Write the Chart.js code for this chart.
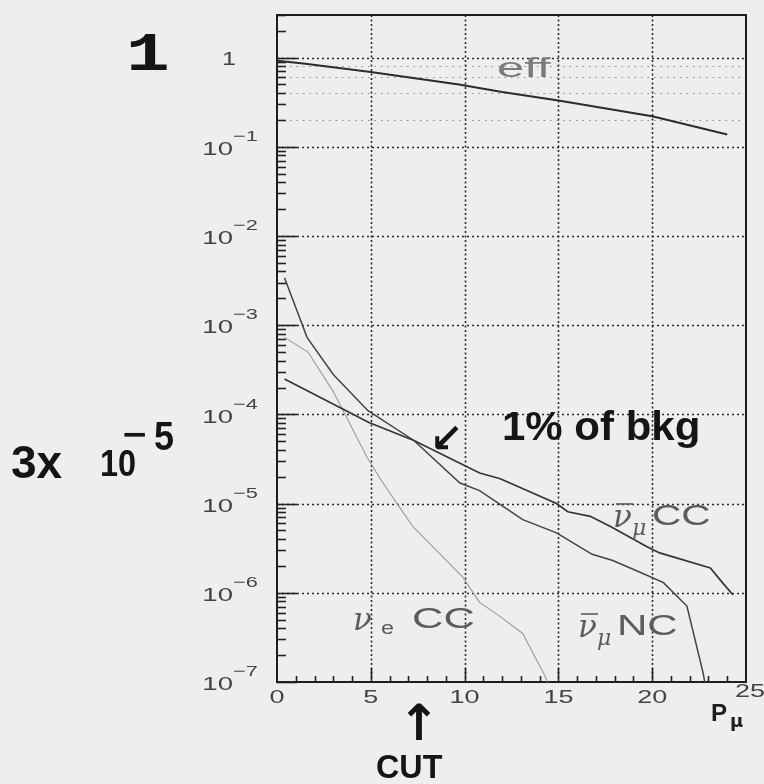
<!DOCTYPE html>
<html>
<head>
<meta charset="utf-8">
<script src="https://cdn.jsdelivr.net/npm/chart.js@4/dist/chart.umd.min.js"></script>
<style>
  html, body { margin: 0; padding: 0; background: #eeeeec; }
  #wrap { width: 764px; height: 784px; }
</style>
</head>
<body>
<div id="wrap"><canvas id="c" width="764" height="784"></canvas></div>
<script>
// Muon momentum P_mu (GeV/c) and the curves drawn against it
const effP   = [0, 1.4, 5, 9.7, 12, 15, 20, 24];
const effVal = [0.92, 0.86, 0.69, 0.50, 0.41, 0.33, 0.22, 0.137];

const numuBarCCP   = [0.4, 4.9, 7.3, 10.8, 11.9, 14.9, 15.5, 16.7, 17.8, 19.7, 20.4, 23.1, 23.8, 24.3];
const numuBarCCVal = [2.5e-4, 8.1e-5, 5.1e-5, 2.2e-5, 1.9e-5, 1.0e-5, 8.1e-6, 7.2e-6, 5.5e-6, 3.3e-6, 2.8e-6, 1.9e-6, 1.26e-6, 9.5e-7];

const numuBarNCP   = [0.4, 1.6, 3.0, 4.85, 7.3, 9.75, 10.8, 13.1, 14.9, 16.8, 17.9, 19.35, 20.6, 21.85, 22.7, 23.0];
const numuBarNCVal = [3.4e-3, 7.3e-4, 2.8e-4, 1.1e-4, 5.1e-5, 1.7e-5, 1.4e-5, 6.6e-6, 4.7e-6, 2.7e-6, 2.3e-6, 1.7e-6, 1.3e-6, 7.1e-7, 1.3e-7, 6e-8];

const nueCCP   = [0.4, 1.65, 3.0, 4.8, 5.5, 6.4, 7.25, 8.3, 9.9, 10.8, 11.9, 13.1, 13.65, 14.3, 14.5];
const nueCCVal = [7.3e-4, 5.0e-4, 1.8e-4, 3.3e-5, 1.9e-5, 1.0e-5, 5.5e-6, 3.3e-6, 1.5e-6, 7.8e-7, 5.4e-7, 3.5e-7, 2.1e-7, 1.15e-7, 9e-8];

// Axis ticks
const xTickLabels = [0, 5, 10, 15, 20, 25];
const yDecades    = [-7, -6, -5, -4, -3, -2, -1, 0];
const yFineGrid   = [0.2, 0.4, 0.6, 0.8];

const pts = (xs, ys) => xs.map((x, i) => ({ x: x, y: ys[i] }));

function txt(ctx, s, x, y, font, sx, align, color, base) {
  ctx.save();
  ctx.font = font;
  ctx.fillStyle = color;
  ctx.textAlign = align || 'left';
  ctx.textBaseline = base || 'middle';
  ctx.translate(x, y);
  ctx.scale(sx, 1);
  ctx.fillText(s, 0, 0);
  ctx.restore();
}

// neutrino symbol, with an optional bar for the antineutrino
function nu(ctx, x, base, bar, color) {
  txt(ctx, '\u03bd', x, base, 'italic 31px "DejaVu Serif"', 1.0, 'left', color, 'alphabetic');
  if (bar) {
    ctx.save();
    ctx.strokeStyle = color;
    ctx.lineWidth = 1.6;
    ctx.beginPath(); ctx.moveTo(x + 3, base - 23); ctx.lineTo(x + 20, base - 23); ctx.stroke();
    ctx.restore();
  }
}

const frame = {
  id: 'frame',
  beforeDatasetsDraw(chart) {
    const { ctx, chartArea: a, scales: { x, y } } = chart;
    ctx.save();
    // fine grid across the efficiency region
    ctx.strokeStyle = '#8a8a8a';
    ctx.lineWidth = 1;
    ctx.setLineDash([1.5, 5]);
    yFineGrid.forEach(v => {
      const py = Math.round(y.getPixelForValue(v)) + 0.5;
      ctx.beginPath(); ctx.moveTo(a.left, py); ctx.lineTo(a.right, py); ctx.stroke();
    });
    // decade grid
    ctx.strokeStyle = '#2a2a2a';
    ctx.lineWidth = 1.6;
    ctx.setLineDash([2, 3]);
    yDecades.forEach(k => {
      if (k === -7) return;
      const py = Math.round(y.getPixelForValue(Math.pow(10, k))) + 0.5;
      ctx.beginPath(); ctx.moveTo(a.left, py); ctx.lineTo(a.right, py); ctx.stroke();
    });
    ctx.setLineDash([2, 2.5]);
    xTickLabels.forEach(v => {
      if (v === 0 || v === 25) return;
      const px = Math.round(x.getPixelForValue(v)) + 0.5;
      ctx.beginPath(); ctx.moveTo(px, a.top); ctx.lineTo(px, a.bottom); ctx.stroke();
    });
    ctx.setLineDash([]);
    // y ticks: long at decades, short at 2..9
    ctx.strokeStyle = '#222';
    ctx.lineWidth = 1.6;
    for (let k = -7; k <= 0; k++) {
      for (let m = 1; m <= 9; m++) {
        const v = m * Math.pow(10, k);
        if (v > y.max) break;
        const py = Math.round(y.getPixelForValue(v)) + 0.5;
        const len = m === 1 ? 20 : 9;
        ctx.beginPath(); ctx.moveTo(a.left, py); ctx.lineTo(a.left + len, py); ctx.stroke();
      }
    }
    // x ticks every 1 GeV/c
    for (let v = 1; v < 25; v++) {
      const px = Math.round(x.getPixelForValue(v)) + 0.5;
      const len = v % 5 === 0 ? 14 : 6;
      ctx.beginPath(); ctx.moveTo(px, a.bottom); ctx.lineTo(px, a.bottom - len); ctx.stroke();
    }
    // frame
    ctx.lineWidth = 2;
    ctx.strokeStyle = '#1e1e1e';
    ctx.strokeRect(a.left, a.top, a.right - a.left, a.bottom - a.top);
    ctx.restore();
  },
  afterDraw(chart) {
    const { ctx, scales: { x, y } } = chart;
    const lab = '#444';
    // y tick labels
    yDecades.forEach(k => {
      const py = y.getPixelForValue(Math.pow(10, k));
      if (k === 0) {
        txt(ctx, '1', 236, py + 2, '18px "Liberation Sans"', 1.4, 'right', lab);
      } else {
        txt(ctx, '10', 233, py + 3, '19px "Liberation Sans"', 1.45, 'right', lab);
        txt(ctx, '\u2212' + (-k), 233, py - 10, '15px "Liberation Sans"', 1.45, 'left', lab);
      }
    });
    // x tick labels
    xTickLabels.forEach(v => {
      const px = x.getPixelForValue(v);
      txt(ctx, String(v), px + (v === 25 ? 4 : 0), v === 25 ? 692 : 698, '18px "Liberation Sans"', 1.5, 'center', lab);
    });
    // axis title
    txt(ctx, 'P', 711, 721, 'bold 23px "Liberation Sans"', 1.05, 'left', '#1e1e1e', 'alphabetic');
    txt(ctx, '\u03bc', 730, 727, 'bold 18px "DejaVu Sans"', 1.0, 'left', '#1e1e1e', 'alphabetic');

    // curve labels
    const cl = '#5c5c5c';
    txt(ctx, 'eff', 497, 77, '28px "Liberation Sans"', 1.75, 'left', '#7a7a7a', 'alphabetic');

    nu(ctx, 613, 527, true, cl);
    txt(ctx, '\u03bc', 632, 535, 'italic 22px "DejaVu Serif"', 1.0, 'left', cl, 'alphabetic');
    txt(ctx, 'CC', 652, 525, '29px "Liberation Sans"', 1.4, 'left', cl, 'alphabetic');

    nu(ctx, 578, 637, true, cl);
    txt(ctx, '\u03bc', 597, 645, 'italic 22px "DejaVu Serif"', 1.0, 'left', cl, 'alphabetic');
    txt(ctx, 'NC', 617, 635, '29px "Liberation Sans"', 1.45, 'left', cl, 'alphabetic');

    nu(ctx, 353, 630, false, cl);
    txt(ctx, 'e', 381, 634, '18px "Liberation Sans"', 1.3, 'left', cl, 'alphabetic');
    txt(ctx, 'CC', 412, 628, '29px "Liberation Sans"', 1.5, 'left', cl, 'alphabetic');

    // pen notes
    const ink = '#151515';
    txt(ctx, '1', 126, 70, 'bold 54px "Liberation Mono"', 1.35, 'left', ink, 'alphabetic');
    txt(ctx, '3x', 11, 478, 'bold 46px "Liberation Sans"', 1.0, 'left', ink, 'alphabetic');
    txt(ctx, '10', 100, 476, 'bold 36px "Liberation Sans"', 0.9, 'left', ink, 'alphabetic');
    txt(ctx, '\u2212', 123, 446, 'bold 34px "Liberation Sans"', 1.2, 'left', ink, 'alphabetic');
    txt(ctx, '5', 154, 450, 'bold 40px "Liberation Sans"', 0.9, 'left', ink, 'alphabetic');
    txt(ctx, '\u2199', 430, 452, 'bold 40px "DejaVu Sans"', 1.0, 'left', ink, 'alphabetic');
    txt(ctx, '1% of bkg', 502, 440, 'bold 40px "Liberation Sans"', 1.05, 'left', ink, 'alphabetic');
    txt(ctx, '\u2191', 419, 740, 'bold 50px "DejaVu Sans"', 1.0, 'center', ink, 'alphabetic');
    txt(ctx, 'CUT', 376, 778, 'bold 34px "Liberation Sans"', 0.95, 'left', ink, 'alphabetic');
  }
};

new Chart(document.getElementById('c'), {
  type: 'line',
  data: {
    datasets: [
      { label: 'eff', data: pts(effP, effVal), borderColor: '#2c2c2c', borderWidth: 2 },
      { label: 'numubar CC', data: pts(numuBarCCP, numuBarCCVal), borderColor: '#353535', borderWidth: 1.7 },
      { label: 'numubar NC', data: pts(numuBarNCP, numuBarNCVal), borderColor: '#444', borderWidth: 1.5 },
      { label: 'nue CC', data: pts(nueCCP, nueCCVal), borderColor: '#9a9a9a', borderWidth: 1.1 }
    ]
  },
  options: {
    responsive: false,
    animation: false,
    devicePixelRatio: 1,
    layout: { padding: { left: 277, right: 18, top: 15, bottom: 102 } },
    elements: { point: { radius: 0 }, line: { tension: 0, fill: false } },
    plugins: { legend: { display: false }, tooltip: { enabled: false } },
    scales: {
      x: { type: 'linear', min: 0, max: 25, display: false },
      y: { type: 'logarithmic', min: 1e-7, max: 3, display: false }
    }
  },
  plugins: [frame]
});
</script>
</body>
</html>
